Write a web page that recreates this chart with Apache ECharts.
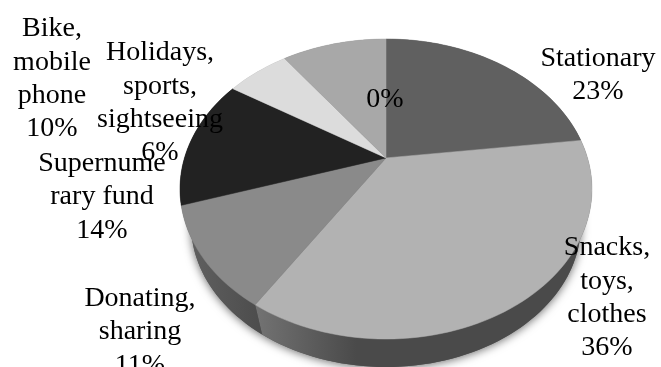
<!DOCTYPE html>
<html>
<head>
<meta charset="utf-8">
<style>html,body{margin:0;padding:0;background:#fff}#chart{width:661px;height:367px}</style>
<script src="https://cdn.jsdelivr.net/npm/echarts@6/dist/echarts.min.js"></script>
</head>
<body>
<div id="chart"></div>
<script>
// Share of pocket money by spending purpose
const categories = ['Stationary', 'Snacks,\ntoys,\nclothes', 'Donating,\nsharing', 'Supernume\nrary fund', 'Holidays,\nsports,\nsightseeing', 'Bike,\nmobile\nphone', ''];
const shares = [23, 36, 11, 14, 6, 10, 0];

const faceColors = ['#606060', '#b2b2b2', '#8a8a8a', '#222222', '#dcdcdc', '#a8a8a8', '#a8a8a8'];
// Side wall shading: colour at the left of the slice, where it settles, and how far along
const wallShades = [
  ['#4a4a4a', '#4a4a4a', 1],
  ['#737373', '#4a4a4a', 0.3],
  ['#626262', '#4c4c4c', 1],
  ['#222222', '#222222', 1],
  ['#999999', '#999999', 1],
  ['#777777', '#777777', 1],
  ['#777777', '#777777', 1]
];
// Label anchor for each slice: horizontal centre and vertical centre of its text block
const labelAnchors = [[598, 75], [607, 298], [140, 332], [102, 197], [160, 103], [52, 79], [385, 100]];

// Tilted disc: perspective moves the pie's apex above the middle of the outline
const topRim = { cx: 386, cy: 189, a: 206, b: 150 };
const bottomRim = { cx: 386, cy: 224, a: 195, b: 143 };
const tilt = 0.207;
const ARC_STEP = 0.5;

function project(rim, percent) {
  const angle = percent / 100 * Math.PI * 2;
  const u = Math.sin(angle), v = -Math.cos(angle);
  const d = 1 - tilt * v;
  return [
    rim.cx + rim.a * Math.sqrt(1 - tilt * tilt) * u / d,
    rim.cy + rim.b * (v - tilt) / d
  ];
}
function arc(rim, from, to) {
  const pts = [];
  for (let p = from; p < to; p += ARC_STEP) pts.push(project(rim, p));
  pts.push(project(rim, to));
  return pts;
}
const total = shares.reduce((s, v) => s + v, 0);
const startOf = i => shares.slice(0, i).reduce((s, v) => s + v, 0) / total * 100;
const endOf = i => startOf(i + 1);
const apex = () => [topRim.cx, topRim.cy - topRim.b * tilt];

const rows = shares.map((v, i) => [i, v]);
const base = { type: 'custom', coordinateSystem: 'none', silent: true, animation: false, data: rows };

const option = {
  backgroundColor: '#ffffff',
  animation: false,
  series: [
    { // soft shadow under the disc
      ...base,
      data: [[0, total]],
      z: 1,
      renderItem: () => ({
        type: 'polygon',
        shape: { points: arc(bottomRim, 0, 100) },
        style: { fill: '#555', shadowBlur: 10, shadowOffsetY: 1, shadowColor: 'rgba(0,0,0,0.6)' }
      })
    },
    { // side wall of each slice
      ...base,
      z: 2,
      renderItem: (params) => {
        const i = params.dataIndex;
        if (!shares[i]) return null;
        const from = startOf(i), to = endOf(i);
        const [left, settled, at] = wallShades[i];
        return {
          type: 'polygon',
          shape: { points: arc(topRim, from, to).concat(arc(bottomRim, from, to).reverse()) },
          style: {
            fill: new echarts.graphic.LinearGradient(0, 0, 1, 0, [
              { offset: 0, color: left }, { offset: at, color: settled }, { offset: 1, color: settled }
            ])
          }
        };
      }
    },
    { // top face of each slice
      ...base,
      z: 3,
      renderItem: (params) => {
        const i = params.dataIndex;
        if (!shares[i]) return null;
        return {
          type: 'polygon',
          shape: { points: [apex()].concat(arc(topRim, startOf(i), endOf(i))) },
          style: { fill: faceColors[i], stroke: faceColors[i], lineWidth: 0.5 }
        };
      }
    },
    { // category name and percentage
      ...base,
      z: 4,
      renderItem: (params) => {
        const i = params.dataIndex;
        const line = categories[i] ? categories[i] + '\n' : '';
        return {
          type: 'text',
          x: labelAnchors[i][0],
          y: labelAnchors[i][1],
          style: {
            text: line + shares[i] + '%',
            fill: '#000',
            font: '28px "Liberation Serif"',
            lineHeight: 33.3,
            align: 'center',
            verticalAlign: 'middle'
          }
        };
      }
    }
  ]
};
echarts.init(document.getElementById('chart'), null, { renderer: 'canvas' }).setOption(option);
</script>
</body>
</html>
